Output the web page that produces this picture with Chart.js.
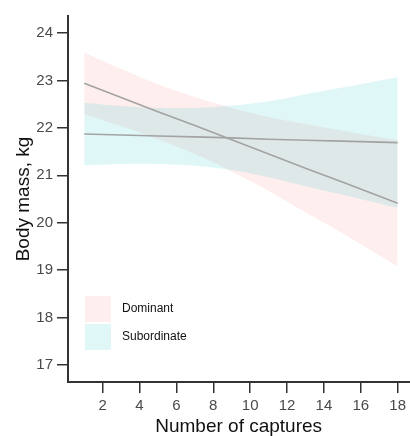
<!DOCTYPE html>
<html>
<head>
<meta charset="utf-8">
<script src="https://cdn.jsdelivr.net/npm/chart.js@4"></script>
<style>
  html, body { margin: 0; padding: 0; background: #fff; }
  #wrap { width: 410px; height: 436px; }
</style>
</head>
<body>
<div id="wrap"><canvas id="massChart" width="410" height="436"></canvas></div>
<script>
// number of captures at which the fitted lines and bands are drawn
const captures = [1, 3, 5, 7, 9, 11, 13, 15, 18];

// dominant: fitted body mass and confidence band
const domFit   = [22.94, 22.64, 22.34, 22.05, 21.75, 21.45, 21.15, 20.86, 20.41];
const domUpper = [23.59, 23.24, 22.92, 22.65, 22.42, 22.23, 22.08, 21.94, 21.74];
const domLower = [22.29, 22.04, 21.76, 21.45, 21.08, 20.67, 20.22, 19.78, 19.08];

// subordinate: fitted body mass and confidence band
const subFit   = [21.87, 21.85, 21.83, 21.81, 21.79, 21.76, 21.74, 21.72, 21.69];
const subUpper = [22.53, 22.46, 22.42, 22.42, 22.47, 22.56, 22.71, 22.85, 23.07];
const subLower = [21.21, 21.24, 21.24, 21.20, 21.11, 20.96, 20.77, 20.59, 20.31];

const xTicks = [2, 4, 6, 8, 10, 12, 14, 16, 18];
const yTicks = [17, 18, 19, 20, 21, 22, 23, 24];

const groupNames = ["Dominant", "Subordinate"];
const groupFills = ["rgba(248, 118, 109, 0.12)", "rgba(0, 191, 196, 0.12)"];

const toPoints = ys => captures.map((x, i) => ({ x: x, y: ys[i] }));

const bandStyle = {
  borderWidth: 0,
  pointRadius: 0,
  tension: 0.3
};
const lineStyle = {
  borderColor: "#a3a3a3",
  borderWidth: 1.6,
  pointRadius: 0,
  fill: false,
  tension: 0
};

// legend boxes drawn inside the plot, lower left
const insetLegend = {
  id: "insetLegend",
  afterDraw(chart) {
    const ctx = chart.ctx;
    ctx.save();
    ctx.font = "12px 'Liberation Sans', Arial, sans-serif";
    ctx.textBaseline = "middle";
    groupNames.forEach((name, i) => {
      const top = 296 + i * 28;
      ctx.fillStyle = groupFills[i];
      ctx.fillRect(85, top, 26, 26);
      ctx.fillStyle = "#111";
      ctx.fillText(name, 122, top + 13);
    });
    ctx.restore();
  }
};

new Chart(document.getElementById("massChart"), {
  type: "line",
  data: {
    datasets: [
      Object.assign({ data: toPoints(domFit), order: 0 }, lineStyle),
      Object.assign({ data: toPoints(subFit), order: 0 }, lineStyle),
      Object.assign({ data: toPoints(subUpper), fill: "+1", backgroundColor: groupFills[1], order: 1 }, bandStyle),
      Object.assign({ data: toPoints(subLower), fill: false, order: 1 }, bandStyle),
      Object.assign({ data: toPoints(domUpper), fill: "+1", backgroundColor: groupFills[0], order: 2 }, bandStyle),
      Object.assign({ data: toPoints(domLower), fill: false, order: 2 }, bandStyle)
    ]
  },
  options: {
    responsive: false,
    animation: false,
    layout: { padding: { top: 16, right: 0, left: 0, bottom: 0 } },
    plugins: {
      legend: { display: false },
      tooltip: { enabled: false }
    },
    scales: {
      x: {
        type: "linear",
        min: 0.12,
        max: 18.63,
        afterFit(scale) { scale.height = 54; },
        afterBuildTicks(scale) { scale.ticks = xTicks.map(v => ({ value: v })); },
        grid: { drawOnChartArea: false, tickLength: 11, color: "#333", lineWidth: 1.5 },
        border: { color: "#333", width: 2 },
        ticks: {
          padding: 4,
          color: "#4a4a4a",
          font: { family: "'Liberation Sans', Arial, sans-serif", size: 15 }
        },
        title: {
          display: true,
          text: "Number of captures",
          color: "#111",
          padding: { top: 0, bottom: 0 },
          font: { family: "'Liberation Sans', Arial, sans-serif", size: 19, lineHeight: 1 }
        }
      },
      y: {
        min: 16.64,
        max: 24.36,
        afterFit(scale) { scale.width = 68; },
        afterBuildTicks(scale) { scale.ticks = yTicks.map(v => ({ value: v })); },
        grid: { drawOnChartArea: false, tickLength: 11, color: "#333", lineWidth: 1.5 },
        border: { color: "#333", width: 2 },
        ticks: {
          padding: 4,
          color: "#4a4a4a",
          font: { family: "'Liberation Sans', Arial, sans-serif", size: 15 }
        },
        title: {
          display: true,
          text: "Body mass, kg",
          color: "#111",
          padding: { top: 14, bottom: 0 },
          font: { family: "'Liberation Sans', Arial, sans-serif", size: 19, lineHeight: 1 }
        }
      }
    }
  },
  plugins: [insetLegend]
});
</script>
</body>
</html>
